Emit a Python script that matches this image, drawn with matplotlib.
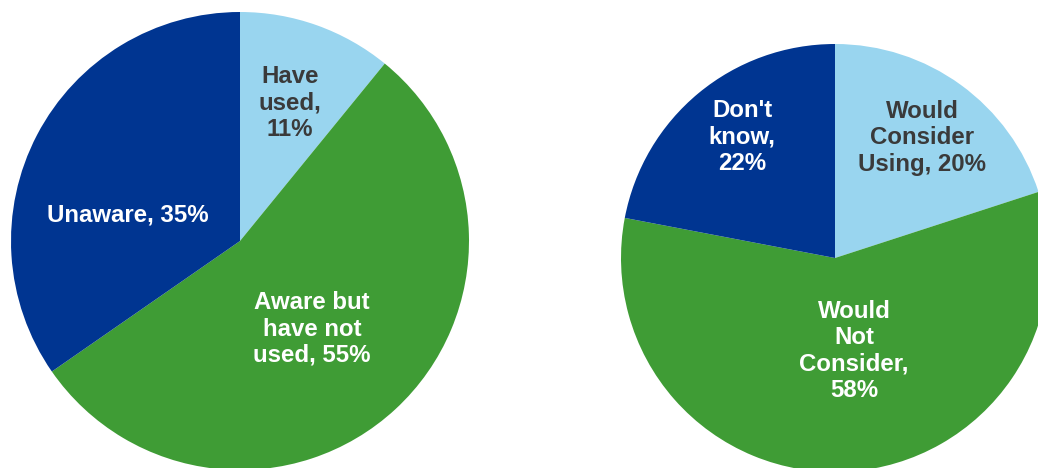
import matplotlib
matplotlib.use("Agg")
import matplotlib.pyplot as plt

# Awareness of the service
aware_labels = ["Have\nused,\n", "Aware but\nhave not\nused, ", "Unaware, "]
aware_values = [11, 55, 35]

# Intention among those who have not used it
intent_labels = ["Would\nConsider\nUsing, ", "Would\nNot\nConsider,\n", "Don't\nknow,\n"]
intent_values = [20, 58, 22]

LIGHT = "#99D5EF"
GREEN = "#3F9C35"
NAVY = "#003591"
slice_colors = [LIGHT, GREEN, NAVY]
text_colors = ["#3A3A3A", "white", "white"]

plt.rcParams["font.family"] = ["Liberation Sans", "DejaVu Sans"]

W, H = 1038, 468
fig = plt.figure(figsize=(W / 100, H / 100), dpi=100)
ax = fig.add_axes([0, 0, 1, 1])


def draw_pie(values, labels, center, radius, label_pos):
    ax.pie(values, colors=slice_colors, startangle=90, counterclock=False,
           center=center, radius=radius, frame=True,
           wedgeprops=dict(linewidth=0))
    for lab, val, pos, tc in zip(labels, values, label_pos, text_colors):
        ax.text(pos[0], H - pos[1], f"{lab}{val}%", ha="center", va="center",
                fontsize=17.3, fontweight="bold", color=tc, linespacing=1.17)


draw_pie(aware_values, aware_labels, (240, H - 241), 229,
         [(290, 103), (312, 329), (128, 215)])
draw_pie(intent_values, intent_labels, (835, H - 258), 214,
         [(922, 138), (854, 351), (742, 137)])

ax.set_xlim(0, W)
ax.set_ylim(0, H)
ax.set_aspect("auto")
ax.axis("off")

fig.savefig("out.png", dpi=100, facecolor="white")
